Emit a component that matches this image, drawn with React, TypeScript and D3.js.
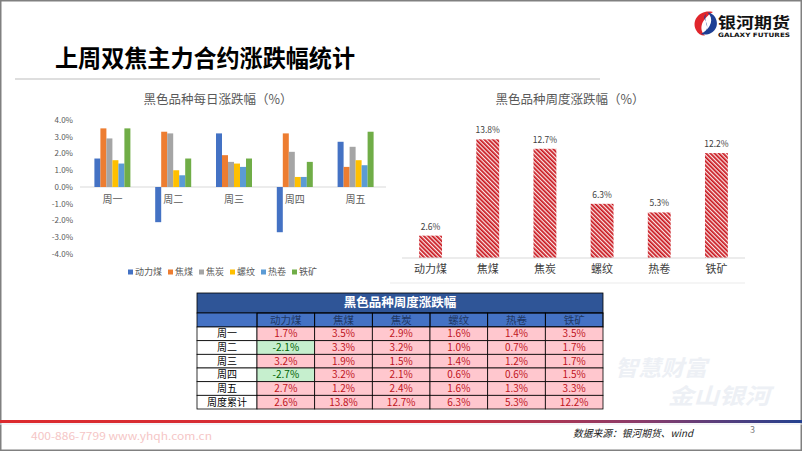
import React from "react";
import * as d3 from "d3";

const days = ["周一", "周二", "周三", "周四", "周五"];
const products = ["动力煤", "焦煤", "焦炭", "螺纹", "热卷", "铁矿"];
const dailyValues: number[][] = [
  [1.7, 3.5, 2.9, 1.6, 1.4, 3.5],
  [-2.1, 3.3, 3.2, 1.0, 0.7, 1.7],
  [3.2, 1.9, 1.5, 1.4, 1.2, 1.7],
  [-2.7, 3.2, 2.1, 0.6, 0.6, 1.5],
  [2.7, 1.2, 2.4, 1.6, 1.3, 3.3],
];
const weeklyValues = [2.6, 13.8, 12.7, 6.3, 5.3, 12.2];
const yTicks = [4, 3, 2, 1, 0, -1, -2, -3, -4];
const seriesColors = ["#4472c4", "#ed7d31", "#a5a5a5", "#ffc000", "#5b9bd5", "#70ad47"];
const tableRowLabels = [...days, "周度累计"];

const FONT = "'Noto Sans CJK SC', 'Noto Sans', sans-serif";

export default function App() {
  const x0 = d3.scaleBand<string>().domain(days).range([82, 386]);
  const x1 = d3.scaleBand<string>().domain(products).range([0, 36]);
  const yL = d3.scaleLinear().domain([-4, 4]).range([254, 120]);
  const fmt1 = (v: number) => `${v.toFixed(1)}%`;

  const xR = d3.scaleBand<string>().domain(products).range([402, 745]).paddingInner(0.6).paddingOuter(0.3);
  const yR = d3.scaleLinear().domain([0, 16]).range([258, 120.4]);

  const colX = d3.scaleBand<string>().domain(products).range([257, 603]);
  const rowY = d3.scaleBand<string>().domain(tableRowLabels).range([327, 409]);
  const tableLeft = 197;
  const tableRight = 603;

  let lx = 128;
  const legendItems = products.map((p, i) => {
    const item = { p, x: lx, color: seriesColors[i] };
    lx += 5 + 2 + p.length * 9 + 6;
    return item;
  });

  const cellValue = (ri: number, ci: number) =>
    ri < days.length ? dailyValues[ri][ci] : weeklyValues[ci];

  return (
    <svg
      width={802}
      height={451}
      style={{ position: "fixed", left: 0, top: 0, background: "#fff" }}
      fontFamily={FONT}
    >
      <defs>
        <pattern id="hatch" patternUnits="userSpaceOnUse" width="3" height="3" patternTransform="rotate(-45)">
          <rect width="3" height="3" fill="#fbe6e6" />
          <rect width="1.7" height="3" fill="#c8141c" />
        </pattern>
        <linearGradient id="footGrad" x1="0" x2="1" y1="0" y2="0">
          <stop offset="0" stopColor="#dc2a2e" />
          <stop offset="0.55" stopColor="#d0303a" />
          <stop offset="0.8" stopColor="#8a3b6a" />
          <stop offset="1" stopColor="#24418f" />
        </linearGradient>
      </defs>
      <rect x={0} y={0} width={802} height={451} fill="#fff" />
      <rect x={0.75} y={0.75} width={800.5} height={449.5} fill="none" stroke="#808080" strokeWidth={1.5} />

      {/* Header */}
      <text x={55} y={67} fontSize={24} fontWeight={700} fill="#000" textLength={300} lengthAdjust="spacingAndGlyphs">
        上周双焦主力合约涨跌幅统计
      </text>
      <line x1={15} x2={600} y1={79} y2={79} stroke="#d3d3d3" strokeWidth={1.5} />

      {/* Logo */}
      <path d="M713 12 C700 9, 691 20, 696 30 C698 34, 702 36, 705 35.5 C699 30, 700 20, 713 12 Z" fill="#e0262c" />
      <path d="M701 34 C712 37, 721 27, 715 17 C713 14, 710 12.5, 707.5 12.5 C714 18, 712 28, 701 34 Z" fill="#1e3f94" />
      <path d="M706 14 C700 20, 712 22, 705 33 C711 28, 703 22, 706 14 Z" fill="#1e3f94" />
      <text x={718} y={28} fontSize={15} fontWeight={700} fill="#111" textLength={72} lengthAdjust="spacingAndGlyphs">
        银河期货
      </text>
      <text x={718} y={37} fontSize={6} fontWeight={700} fill="#111" textLength={72} lengthAdjust="spacingAndGlyphs" fontFamily="'DejaVu Sans', sans-serif">
        GALAXY FUTURES
      </text>

      {/* Left chart */}
      <text x={218} y={104} fontSize={12.5} fill="#595959" textAnchor="middle">
        黑色品种每日涨跌幅（%）
      </text>
      {yTicks.map((t) => (
        <text key={t} x={73} y={yL(t)} dy="0.35em" fontSize={8} fill="#595959" textAnchor="end">
          {fmt1(t)}
        </text>
      ))}
      <line x1={80} x2={386} y1={yL(0)} y2={yL(0)} stroke="#d9d9d9" strokeWidth={1} />
      {days.map((d, di) => {
        const cx = (x0(d) as number) + x0.bandwidth() / 2;
        return (
          <g key={d} transform={`translate(${cx - 18},0)`}>
            {products.map((p, pi) => {
              const v = dailyValues[di][pi];
              return (
                <rect
                  key={p}
                  x={x1(p) as number}
                  y={Math.min(yL(v), yL(0))}
                  width={x1.bandwidth()}
                  height={Math.abs(yL(v) - yL(0))}
                  fill={seriesColors[pi]}
                />
              );
            })}
          </g>
        );
      })}
      {days.map((d) => (
        <text key={d} x={(x0(d) as number) + x0.bandwidth() / 2} y={199} dy="0.35em" fontSize={10} fill="#595959" textAnchor="middle">
          {d}
        </text>
      ))}
      {legendItems.map((it) => (
        <g key={it.p}>
          <rect x={it.x} y={269.5} width={5} height={5} fill={it.color} />
          <text x={it.x + 7} y={272} dy="0.35em" fontSize={9} fill="#595959">
            {it.p}
          </text>
        </g>
      ))}

      {/* Right chart */}
      <text x={570} y={104} fontSize={12.5} fill="#595959" textAnchor="middle">
        黑色品种周度涨跌幅（%）
      </text>
      {products.map((p, i) => {
        const v = weeklyValues[i];
        return (
          <g key={p}>
            <rect x={xR(p) as number} y={yR(v)} width={xR.bandwidth()} height={yR(0) - yR(v)} fill="url(#hatch)" />
            <text x={(xR(p) as number) + xR.bandwidth() / 2} y={yR(v) - 9} dy="0.35em" fontSize={8.5} fill="#404040" textAnchor="middle">
              {fmt1(v)}
            </text>
            <text x={(xR(p) as number) + xR.bandwidth() / 2} y={269.5} dy="0.35em" fontSize={11} fill="#404040" textAnchor="middle">
              {p}
            </text>
          </g>
        );
      })}
      <line x1={402} x2={745} y1={yR(0)} y2={yR(0)} stroke="#d9d9d9" strokeWidth={1} />
      <line x1={390} x2={745} y1={283} y2={283} stroke="#ececec" strokeWidth={1.2} />

      {/* Table */}
      <rect x={tableLeft} y={293} width={tableRight - tableLeft} height={20} fill="#2f5597" stroke="#000" strokeWidth={0.8} />
      <text x={(tableLeft + tableRight) / 2} y={303} dy="0.35em" fontSize={12.5} fontWeight={700} fill="#fff" textAnchor="middle">
        黑色品种周度涨跌幅
      </text>
      <rect x={tableLeft} y={313} width={tableRight - tableLeft} height={14} fill="#4472c4" stroke="#000" strokeWidth={0.8} />
      <line x1={257} x2={257} y1={313} y2={327} stroke="#000" strokeWidth={0.8} />
      {products.map((p) => (
        <g key={p}>
          <rect x={colX(p) as number} y={313} width={colX.bandwidth()} height={14} fill="none" stroke="#000" strokeWidth={0.8} />
          <text x={(colX(p) as number) + colX.bandwidth() / 2} y={320} dy="0.35em" fontSize={10.5} fill="#1f3864" textAnchor="middle">
            {p}
          </text>
        </g>
      ))}
      {tableRowLabels.map((r, ri) => {
        const y = rowY(r) as number;
        const h = rowY.bandwidth();
        return (
          <g key={r}>
            <rect x={tableLeft} y={y} width={257 - tableLeft} height={h} fill="#fff" stroke="#000" strokeWidth={0.8} />
            <text x={(tableLeft + 257) / 2} y={y + h / 2} dy="0.35em" fontSize={10} fill="#000" textAnchor="middle">
              {r}
            </text>
            {products.map((p, ci) => {
              const v = cellValue(ri, ci);
              const neg = v < 0;
              return (
                <g key={p}>
                  <rect
                    x={colX(p) as number}
                    y={y}
                    width={colX.bandwidth()}
                    height={h}
                    fill={neg ? "#c6efce" : "#ffc7ce"}
                    stroke="#000"
                    strokeWidth={0.8}
                  />
                  <text
                    x={(colX(p) as number) + colX.bandwidth() / 2}
                    y={y + h / 2}
                    dy="0.35em"
                    fontSize={10}
                    fill={neg ? "#006100" : "#c0141c"}
                    textAnchor="middle"
                  >
                    {fmt1(v)}
                  </text>
                </g>
              );
            })}
          </g>
        );
      })}

      {/* Watermark */}
      <text x={615} y={376} fontSize={22} fontWeight={700} fontStyle="italic" fill="#edf0f5" textLength={92} lengthAdjust="spacingAndGlyphs">
        智慧财富
      </text>
      <text x={668} y={404} fontSize={22} fontWeight={700} fontStyle="italic" fill="#edf0f5" textLength={102} lengthAdjust="spacingAndGlyphs">
        金山银河
      </text>

      {/* Footer */}
      <rect x={0} y={420} width={802} height={3} fill="url(#footGrad)" />
      <line x1={0} x2={802} y1={424} y2={424} stroke="#e8e8f0" strokeWidth={1} />
      <text x={31} y={440} fontSize={10} fill="#f5c6c6" textLength={181} lengthAdjust="spacingAndGlyphs">
        400-886-7799 www.yhqh.com.cn
      </text>
      <text x={573} y={437} fontSize={10} fontStyle="italic" fill="#222" textLength={120} lengthAdjust="spacingAndGlyphs">
        数据来源：银河期货、wind
      </text>
      <text x={750} y={433} fontSize={9} fill="#808080">
        3
      </text>
    </svg>
  );
}
